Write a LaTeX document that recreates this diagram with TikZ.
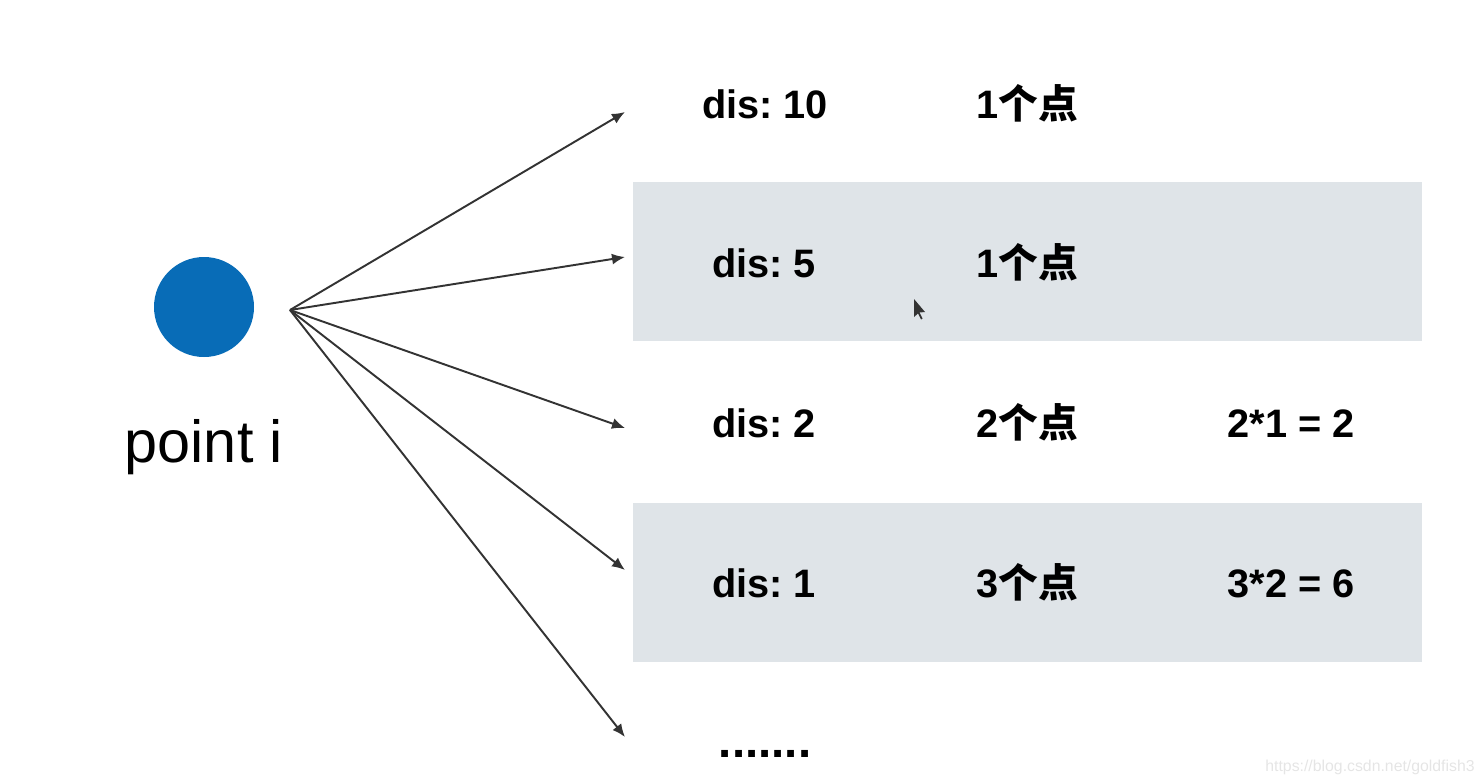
\documentclass[tikz,border=0pt]{standalone}
\usepackage{fontspec}
\setmainfont{Liberation Sans}
\newfontfamily\cjk{Noto Sans CJK SC}
\usepackage{xcolor}
\usepackage{tikz}
\usetikzlibrary{arrows.meta,positioning}
\frenchspacing
\definecolor{pointblue}{RGB}{8,108,183}
\definecolor{bandgray}{RGB}{223,228,232}
\newcommand{\dian}[1]{#1{\cjk 个点}}
\tikzset{
  pointdot/.style={circle,fill=pointblue,draw=none,minimum size=10mm,inner sep=0pt},
  band/.style={fill=bandgray,draw=none},
  fanarrow/.style={-{Latex[length=1.3mm,width=1.1mm]},line width=.55pt,draw=black!80},
  distlabel/.style={anchor=base,font=\fontsize{11.3}{13}\selectfont\bfseries,inner sep=0pt},
  countlabel/.style={distlabel}
}
\begin{document}
\begin{tikzpicture}
  \useasboundingbox (0,0) rectangle (14.84,7.78);
  % shaded rows behind dis: 5 and dis: 1
  \fill[band] (6.33,5.96) rectangle (14.22,4.37);
  \fill[band] (6.33,2.75) rectangle (14.22,1.16);

  % the point and its label
  \node[pointdot] (pt) at (2.04,4.71) {};
  \node[anchor=base,font=\fontsize{16.9}{19}\selectfont] (ptlabel) at (2.04,3.16) {point i};

  % fan of distances
  \coordinate (fan) at (2.90,4.68);
  \coordinate (e1) at (6.25,6.66);
  \coordinate (e2) at (6.25,5.21);
  \coordinate (e3) at (6.25,3.50);
  \coordinate (e4) at (6.25,2.08);
  \coordinate (e5) at (6.25,0.41);
  \foreach \e in {e1,e2,e3,e4,e5}
    \draw[fanarrow] (fan) -- (\e);

  % rows: distance, count, pairs
  \node[distlabel] (d10) at (7.65,6.60) {dis: 10};
  \node[countlabel] (c10) at (10.27,6.60) {\dian{1}};
  \node[distlabel] (d5) at (7.64,5.01) {dis: 5};
  \node[countlabel] (c5) at (10.27,5.01) {\dian{1}};
  \node[distlabel] (d2) at (7.64,3.41) {dis: 2};
  \node[countlabel] (c2) at (10.27,3.41) {\dian{2}};
  \node[distlabel] (p2) at (12.91,3.41) {2*1 = 2};
  \node[distlabel] (d1) at (7.64,1.81) {dis: 1};
  \node[countlabel] (c1) at (10.27,1.81) {\dian{3}};
  \node[distlabel] (p1) at (12.91,1.81) {3*2 = 6};
  \node[distlabel,font=\fontsize{13.5}{15}\selectfont\bfseries] (more) at (7.65,0.21) {.......};

  % mouse pointer
  \fill[black!80] (9.14,4.79) -- (9.14,4.61) -- (9.18,4.645) -- (9.21,4.585)
    -- (9.225,4.595) -- (9.195,4.655) -- (9.25,4.66) -- cycle;

  % watermark
  \node[anchor=base,text=black!10,font=\fontsize{4.5}{5}\selectfont] (mark) at (13.70,0.07)
    {https://blog.csdn.net/goldfish3};
\end{tikzpicture}
\end{document}
